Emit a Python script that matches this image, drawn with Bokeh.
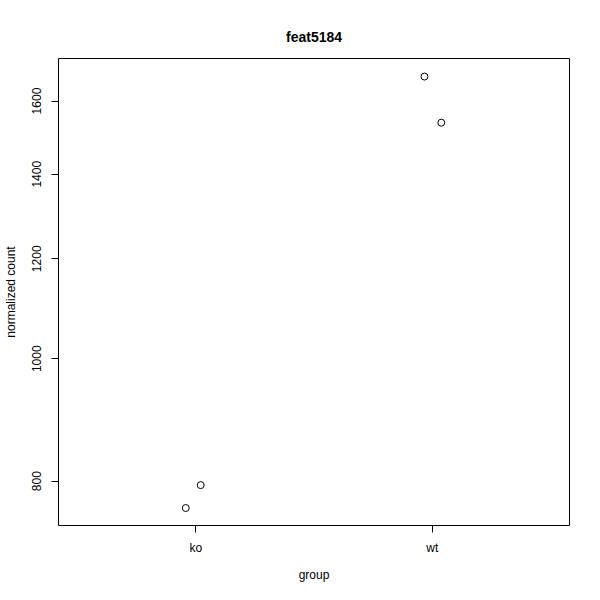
from bokeh.plotting import figure
from bokeh.models import Range1d, FixedTicker, ColumnDataSource
from bokeh.embed import file_html
from bokeh.resources import INLINE

groups = ["ko", "ko", "wt", "wt"]
x_jitter = [0.958, 1.021, 1.967, 2.038]
counts = [761.7, 794.2, 1673.0, 1538.0]
y_ticks = [800, 1000, 1200, 1400, 1600]
x_ticks = [1, 2]
x_labels = ["ko", "wt"]

src = ColumnDataSource(dict(x=x_jitter, y=counts, g=groups))

p = figure(width=584, height=584, output_backend="svg", toolbar_location=None,
           y_axis_type="log",
           x_range=Range1d(0.42, 2.58), y_range=Range1d(737.8, 1729.0),
           title="feat5184",
           min_border_left=51, min_border_right=15, min_border_bottom=58, min_border_top=58)

p.title.align = "center"
p.title.text_font = "Liberation Sans"
p.title.text_font_size = "14px"
p.title.text_font_style = "bold"
p.title.text_color = "black"
p.title.offset = 0
p.title.standoff = 27

p.scatter("x", "y", source=src, size=7, marker="circle", fill_color=None,
          line_color="black", line_width=1)

p.grid.visible = False
p.outline_line_color = "black"
p.outline_line_width = 1
p.background_fill_color = "white"
p.border_fill_color = "white"

for ax in (p.xaxis[0], p.yaxis[0]):
    ax.axis_line_color = None
    ax.major_tick_out = 7
    ax.major_tick_in = 0
    ax.minor_tick_line_color = None
    ax.major_tick_line_color = "black"
    ax.major_label_text_font = "Liberation Sans"
    ax.major_label_text_font_size = "12px"
    ax.major_label_text_color = "black"
    ax.axis_label_text_font = "Liberation Sans"
    ax.axis_label_text_font_size = "12px"
    ax.axis_label_text_font_style = "normal"
    ax.axis_label_text_color = "black"

p.xaxis[0].ticker = FixedTicker(ticks=x_ticks)
p.xaxis[0].major_label_overrides = {t: l for t, l in zip(x_ticks, x_labels)}
p.xaxis[0].axis_label = "group"
p.xaxis[0].major_label_standoff = 8
p.xaxis[0].axis_label_standoff = 10

p.yaxis[0].ticker = FixedTicker(ticks=y_ticks)
p.yaxis[0].major_label_overrides = {t: str(t) for t in y_ticks}
p.yaxis[0].major_label_orientation = "vertical"
p.yaxis[0].axis_label = "normalized count"
p.yaxis[0].major_label_standoff = 10
p.yaxis[0].axis_label_standoff = 12

open("out.html", "w").write(file_html(p, INLINE))
